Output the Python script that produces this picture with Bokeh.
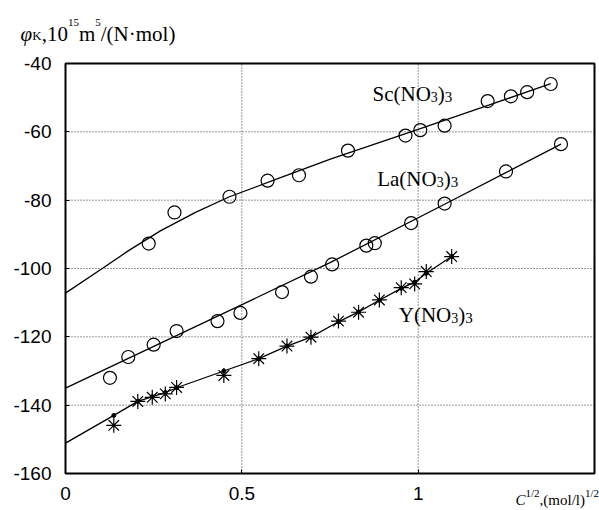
from bokeh.plotting import figure
from bokeh.models import Label, FixedTicker, LinearAxis, Range1d, BoxAnnotation, Grid
from bokeh.embed import file_html
from bokeh.resources import INLINE

# ---------------- data ----------------
sc_x = [0.236, 0.309, 0.465, 0.573, 0.662, 0.801, 0.964, 1.006, 1.075, 1.197, 1.263, 1.309, 1.376]
sc_y = [-92.7, -83.6, -79.0, -74.3, -72.7, -65.5, -61.1, -59.5, -58.2, -51.0, -49.6, -48.4, -46.0]
sc_fit_x = [0.0, 0.1, 0.18, 0.269, 0.37, 0.465, 0.6, 0.751, 1.0, 1.2, 1.376]
sc_fit_y = [-107.2, -100.3, -94.7, -89.0, -83.5, -79.0, -73.8, -68.0, -59.3, -52.2, -45.9]

la_x = [0.126, 0.178, 0.250, 0.315, 0.431, 0.496, 0.614, 0.696, 0.756, 0.853, 0.877, 0.980, 1.075, 1.249, 1.405]
la_y = [-132.0, -125.9, -122.3, -118.3, -115.4, -113.0, -106.9, -102.4, -98.8, -93.3, -92.6, -86.7, -81.0, -71.6, -63.6]
la_fit_x = [0.0, 0.4, 0.75, 1.075, 1.405]
la_fit_y = [-135.0, -115.5, -98.3, -81.2, -63.6]

y_x = [0.137, 0.205, 0.246, 0.283, 0.315, 0.449, 0.548, 0.628, 0.696, 0.774, 0.831, 0.890, 0.952, 0.990, 1.023, 1.095]
y_y = [-145.9, -138.9, -137.7, -136.7, -134.8, -131.3, -126.4, -122.7, -120.1, -115.4, -112.8, -109.2, -105.6, -104.5, -100.9, -96.5]
y_fit_x = [0.0, 0.137, 0.205, 0.246, 0.283, 0.315, 0.449, 0.548, 0.628, 0.696, 0.774, 0.831, 0.890, 0.952, 0.990, 1.023, 1.095]
y_fit_y = [-151.1, -143.0, -138.9, -137.5, -136.3, -134.9, -130.0, -126.4, -122.7, -120.1, -115.6, -112.7, -109.3, -105.8, -104.0, -101.4, -96.5]

x_ticks = [0, 0.5, 1]
x_tick_labels = ["0", "0.5", "1"]
y_ticks = [-160, -140, -120, -100, -80, -60, -40]
y_tick_labels = ["-160", "-140", "-120", "-100", "-80", "-60", "-40"]

# ---------------- layout ----------------
W_CANVAS, H_CANVAS = 599, 509
BOX_L, BOX_T, BOX_R, BOX_B = 65, 63, 594, 473     # plot box inside the canvas (px)
X0, X1 = 0.0, 1.5
Y0, Y1 = -160.0, -40.0
PX_X = (BOX_R - BOX_L) / (X1 - X0)
PX_Y = (BOX_B - BOX_T) / (Y1 - Y0)

SERIF = "Liberation Serif"
SANS = "Liberation Sans"

# the frame covers the whole canvas so that every text can be drawn;
# the axes are pinned to the plot box with fixed_location
x_range = Range1d(X0 - BOX_L / PX_X, X1 + (W_CANVAS - BOX_R) / PX_X)
y_range = Range1d(Y0 - (H_CANVAS - BOX_B) / PX_Y, Y1 + BOX_T / PX_Y)

p = figure(width=W_CANVAS, height=H_CANVAS, x_range=x_range, y_range=y_range,
           x_axis_location=None, y_axis_location=None,
           output_backend="svg", toolbar_location=None, min_border=0)
p.background_fill_color = "white"
p.border_fill_color = "white"
p.outline_line_color = None
p.center = [r for r in p.center if not isinstance(r, Grid)]

xaxis = LinearAxis(fixed_location=Y0, bounds=(X0, X1), ticker=FixedTicker(ticks=x_ticks),
                   major_label_overrides={t: s for t, s in zip(x_ticks, x_tick_labels)},
                   major_label_standoff=13)
yaxis = LinearAxis(fixed_location=X0, bounds=(Y0, Y1), ticker=FixedTicker(ticks=y_ticks),
                   major_label_overrides={t: s for t, s in zip(y_ticks, y_tick_labels)},
                   major_label_standoff=14)
for ax in (xaxis, yaxis):
    ax.axis_line_color = None
    ax.major_tick_in = 4
    ax.major_tick_out = 0
    ax.major_tick_line_color = "black"
    ax.minor_tick_line_color = None
    ax.major_label_text_font = SANS
    ax.major_label_text_font_size = "19px"
    ax.major_label_text_color = "black"
p.add_layout(xaxis, "below")
p.add_layout(yaxis, "left")

# dotted grid at the tick positions, limited to the plot box
p.segment(x0=x_ticks, y0=[Y0] * len(x_ticks), x1=x_ticks, y1=[Y1] * len(x_ticks),
          line_color="#333333", line_dash="1 2", line_width=1)
p.segment(x0=[X0] * len(y_ticks), y0=y_ticks, x1=[X1] * len(y_ticks), y1=y_ticks,
          line_color="#333333", line_dash="1 2", line_width=1)

# plot box
p.add_layout(BoxAnnotation(left=X0, right=X1, bottom=Y0, top=Y1, fill_alpha=0,
                           line_color="black", line_width=2, line_alpha=1))

# ---------------- marks ----------------
LW = 1.3
p.line(sc_fit_x, sc_fit_y, line_color="black", line_width=LW)
p.line(la_fit_x, la_fit_y, line_color="black", line_width=LW)
p.line(y_fit_x, y_fit_y, line_color="black", line_width=LW)
p.scatter(y_fit_x[1:], y_fit_y[1:], marker="circle", size=4, color="black")

p.scatter(sc_x, sc_y, marker="circle", size=13, fill_color=None, line_color="black", line_width=1.2)
p.scatter(la_x, la_y, marker="circle", size=13, fill_color=None, line_color="black", line_width=1.2)
p.scatter(y_x, y_y, marker="asterisk", size=15, line_color="black", line_width=1.2)

# ---------------- rich text labels ----------------
W = {'S': 556, 'c': 444, '(': 333, 'N': 722, 'O': 722, ')': 333, '3': 500, 'L': 611,
     'a': 444, 'Y': 722, ',': 250, '1': 500, '0': 500, '5': 500, 'm': 778, '/': 278,
     '·': 250, 'o': 500, 'l': 278, '2': 500, 'K': 722, 'C': 667, 'φ': 560}


def at(px, py):
    """canvas pixel -> data coordinates"""
    return (X0 + (px - BOX_L) / PX_X, Y1 - (py - BOX_T) / PX_Y)


def rich(px, py, parts):
    x = px
    for text, size, rise, italic in parts:
        lx, ly = at(x, py - rise)
        p.add_layout(Label(x=lx, y=ly, text=text, text_font=SERIF,
                           text_font_size=f"{size}px",
                           text_font_style="italic" if italic else "normal",
                           text_baseline="alphabetic", text_align="left",
                           text_color="black"))
        x += sum(W.get(ch, 500) for ch in text) / 1000 * size


rich(372, 93.3, [("Sc(NO", 21, 0, False), ("3", 14, -3, False), (")", 21, 0, False), ("3", 15, -3, False)])
rich(376.7, 178.3, [("La(NO", 21, 0, False), ("3", 14, -3, False), (")", 21, 0, False), ("3", 15, -3, False)])
rich(398.3, 314.3, [("Y(NO", 21, 0, False), ("3", 14, -3, False), (")", 21, 0, False), ("3", 15, -3, False)])

rich(20, 33.3, [("φ", 21, 0, True), ("K", 13, -2, False), (",10", 21, 0, False),
                ("15", 11, 11.5, False), ("m", 21, 0, False), ("5", 11, 11.5, False),
                ("/(N·mol)", 21, 0, False)])

rich(515, 499.3, [("C", 15, 0, True), ("1/2", 11, 6.5, False), (",(mol/l)", 15, 0, False),
                  ("1/2", 11, 6.5, False)])

open("out.html", "w").write(file_html(p, INLINE))
